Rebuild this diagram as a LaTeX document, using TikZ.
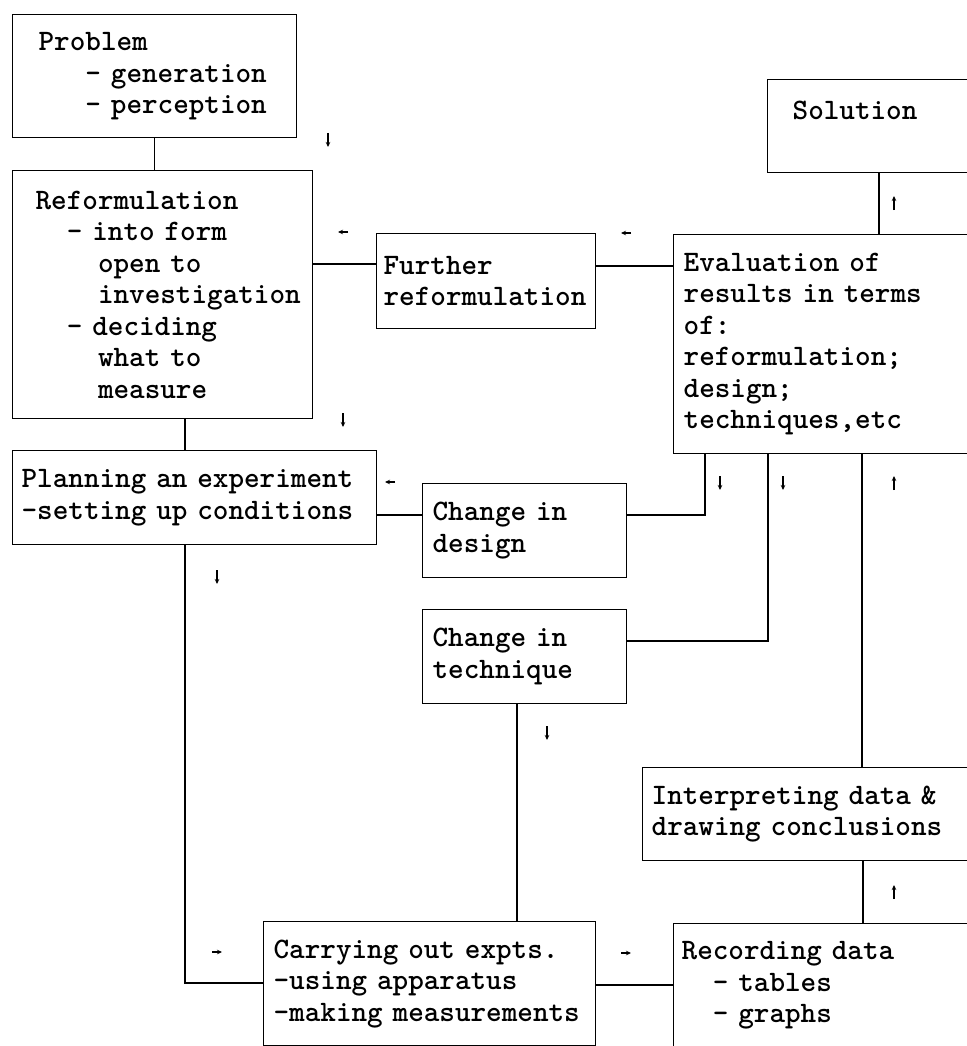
\documentclass[tikz,border=0pt]{standalone}
\usepackage{fontspec}
\newfontfamily\boxfont[WordSpace={1,0,0}]{lmmonolt10-bold.otf}
\usetikzlibrary{arrows.meta}
\hyphenpenalty=10000
\newcommand{\ind}[1]{\hspace*{#1\dimexpr0.525em\relax}}
\begin{document}
\begin{tikzpicture}[x=1pt, y=1pt, line width=1.3pt,
    box/.style={draw, anchor=north west, align=left, inner ysep=0pt,
      font=\boxfont\fontsize{29.7}{31.5}\selectfont},
    flow/.style={line width=1.5pt, -{Stealth[length=5pt, width=4.5pt]}}]
  \useasboundingbox (0,0) rectangle (966,-1046);
  \node[box, minimum width=284, minimum height=123, inner xsep=26, text width=232] (problem) at (12,-14)
    {Problem\\\ind{3}- generation\\\ind{3}- perception};
  \node[box, minimum width=300, minimum height=248, inner xsep=23, text width=254] (reform) at (12,-170)
    {Reformulation\\\ind{2}- into form\\\ind{4}open to\\\ind{4}investigation\\\ind{2}- deciding\\\ind{4}what to\\\ind{4}measure};
  \node[box, minimum width=219, minimum height=95, inner xsep=7, text width=205] (further) at (376,-233)
    {Further\\reformulation};
  \node[box, minimum width=340, minimum height=93, inner xsep=25, text width=290] (solution) at (767,-79)
    {Solution\\\mbox{}};
  \node[box, minimum width=340, minimum height=219, inner xsep=10, text width=320] (eval) at (673,-234)
    {Evaluation of\\results in terms\\of:\\reformulation;\\design;\\techniques,etc};
  \node[box, minimum width=364, minimum height=94, inner xsep=9, text width=346] (plan) at (12,-450)
    {Planning an experiment\\-setting up conditions};
  \node[box, minimum width=204, minimum height=94, inner xsep=10, text width=184] (design) at (422,-483)
    {Change in\\design};
  \node[box, minimum width=204, minimum height=94, inner xsep=10, text width=184] (tech) at (422,-609)
    {Change in\\technique};
  \node[box, minimum width=340, minimum height=93, inner xsep=9, text width=322] (interp) at (642,-767)
    {Interpreting data \&\\drawing conclusions};
  \node[box, minimum width=332, minimum height=124, inner xsep=10, text width=312] (carry) at (263,-921)
    {Carrying out expts.\\-using apparatus\\-making measurements};
  \node[box, minimum width=340, minimum height=124, inner xsep=8, text width=324] (record) at (673,-923)
    {Recording data\\\ind{2}- tables\\\ind{2}- graphs};
  \draw (problem.south) -- (problem.south |- reform.north);
  \draw ([yshift=-31pt]further.north west) -- ([yshift=-31pt]reform.east |- further.north west);
  \draw ([yshift=-32pt]eval.north west) -- ([yshift=-32pt]further.east |- eval.north west);
  \draw ([xshift=112pt]solution.south west) -- ([xshift=112pt]solution.south west |- eval.north);
  \draw ([xshift=173pt]reform.south west) -- ([xshift=173pt]reform.south west |- plan.north);
  \draw ([yshift=-32pt]design.north west) -- ([yshift=-32pt]plan.east |- design.north west);
  \draw ([yshift=-32pt]design.north east) -| ([xshift=32pt]eval.south west);
  \draw ([yshift=-32pt]tech.north east) -| ([xshift=95pt]eval.south west);
  \draw ([xshift=189pt]eval.south west) -- ([xshift=189pt]eval.south west |- interp.north);
  \draw ([xshift=221pt]interp.south west) -- ([xshift=221pt]interp.south west |- record.north);
  \draw ([xshift=95pt]tech.south west) -- ([xshift=95pt]tech.south west |- carry.north);
  \draw ([xshift=173pt]plan.south west) |- ([yshift=-62pt]carry.north west);
  \draw ([yshift=-62pt]record.north west) -- ([yshift=-62pt]carry.east |- record.north west);
  \foreach \x/\y/\dx/\dy in {328/-133/0/-14, 348/-232/-10/0, 631/-233/-10/0, 894/-210/0/14,
      343/-413/0/-14, 395/-482/-10/0, 217/-570/0/-14, 720/-476/0/-14, 783/-476/0/-14,
      894/-490/0/14, 547/-726/0/-14, 894/-899/0/14, 212/-952/10/0, 621/-953/10/0}
    \draw[flow] (\x,\y) -- ++(\dx,\dy);
\end{tikzpicture}
\end{document}
